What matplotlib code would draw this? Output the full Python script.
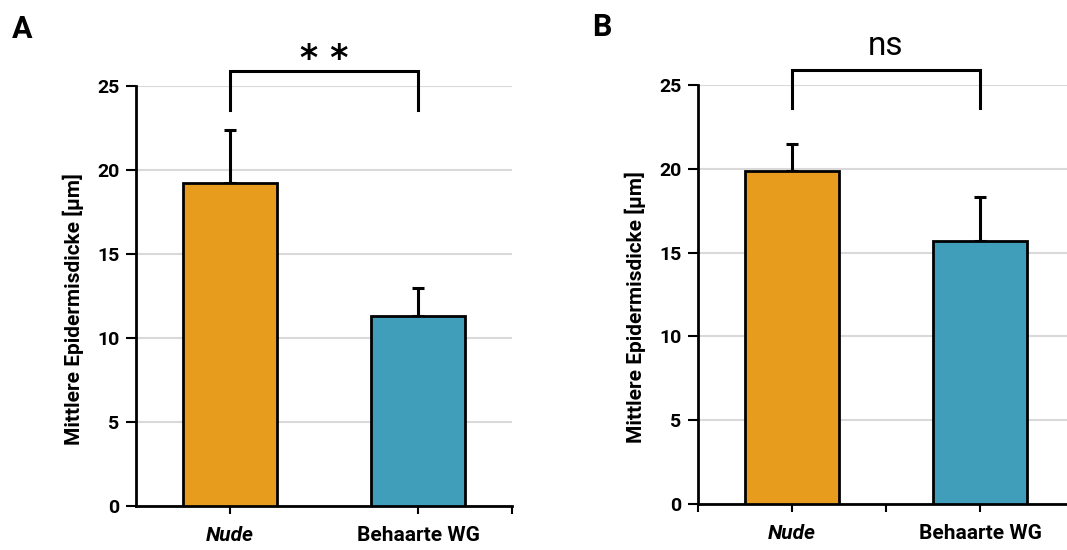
import matplotlib.pyplot as plt
import numpy as np

plt.rcParams['font.family'] = ['Roboto', 'DejaVu Sans']

categories = ["Nude", "Behaarte WG"]
means_a = [19.2, 11.3]
errors_a = [3.2, 1.7]
means_b = [19.85, 15.7]
errors_b = [1.6, 2.6]
panel_labels = ["A", "B"]
significance = ["* *", "ns"]
yticks = [0, 5, 10, 15, 20, 25]
bar_colors = ["#E89C1E", "#409EBA"]

fig = plt.figure(figsize=(10.67, 5.5), dpi=100)
ax_a = fig.add_axes([136 / 1067, 44 / 550, 376 / 1067, 420 / 550])
ax_b = fig.add_axes([698 / 1067, 46 / 550, 376 / 1067, 419 / 550])

panels = [
    (ax_a, means_a, errors_a, [0, 1, 1.5], panel_labels[0], significance[0], 12, 29),
    (ax_b, means_b, errors_b, [-0.5, 0, 0.5, 1], panel_labels[1], significance[1], 592, 27),
]

x = np.arange(len(categories))
for ax, means, errors, xticks, label, sig, lx, ly in panels:
    ax.bar(x, means, width=0.5, color=bar_colors, edgecolor="black", linewidth=2, zorder=3)
    ax.errorbar(x, means, yerr=[np.zeros(len(means)), errors], fmt="none",
                ecolor="black", elinewidth=2.2, capsize=4, capthick=2.2, zorder=2)
    ax.set_xlim(-0.5, 1.5)
    ax.set_ylim(0, 25)
    ax.set_yticks(yticks)
    ax.set_yticklabels([str(t) for t in yticks], fontsize=14, fontweight="bold")
    ax.set_xticks(xticks)
    ax.set_xticklabels([])
    for xi, cat in zip(x, categories):
        ax.text(xi, -1.75, cat, ha="center", va="center", fontsize=15, fontweight="bold",
                fontstyle="italic" if cat == "Nude" else "normal")
    ax.tick_params(axis="y", length=7, width=1.5, pad=5)
    ax.tick_params(axis="x", length=6, width=1.5, direction="out")
    ax.grid(axis="y", color="#d9d9d9", linewidth=1.5, zorder=0)
    ax.set_axisbelow(True)
    for side in ["top", "right"]:
        ax.spines[side].set_visible(False)
    for side in ["left", "bottom"]:
        ax.spines[side].set_linewidth(2)
    ax.set_ylabel("Mittlere Epidermisdicke [µm]", fontsize=15, fontweight="bold")
    ax.yaxis.set_label_coords(-0.138, 0.47)

    # significance bracket
    ax.plot([0, 0, 1, 1], [23.6, 25.9, 25.9, 23.6], color="black", linewidth=2.2,
            clip_on=False, solid_joinstyle="miter", zorder=4)
    if sig == "ns":
        ax.text(0.5, 27.3, sig, ha="center", va="center", fontsize=24, clip_on=False)
    else:
        ax.text(0.5, 26.6, sig, ha="center", va="center", fontsize=25,
                family="DejaVu Sans", fontweight="bold", clip_on=False)

    fig.text(lx / 1067, 1 - ly / 550, label, ha="left", va="center", fontsize=22, fontweight="bold")

fig.savefig("out.png", dpi=100, facecolor="white")
